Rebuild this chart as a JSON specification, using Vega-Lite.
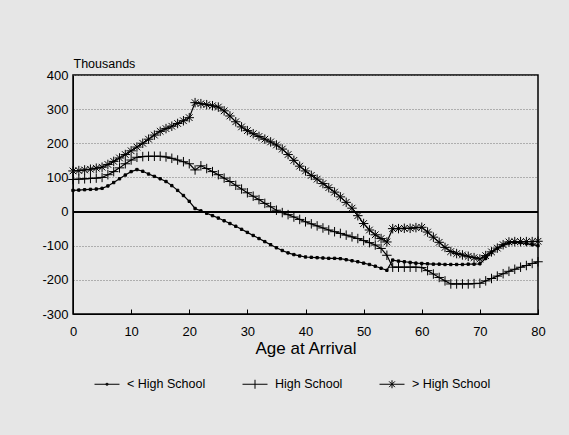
{
  "$schema": "https://vega.github.io/schema/vega-lite/v6.json",
  "autosize": {"type": "none"},
  "width": 465,
  "height": 239,
  "padding": {"left": 73, "top": 75, "right": 31, "bottom": 121},
  "background": "#e6e6e6",
  "config": {
    "font": "Liberation Sans",
    "view": {"stroke": "black", "strokeWidth": 1.5, "fill": "#e6e6e6"},
    "axis": {"labelColor": "black", "titleColor": "black", "domainColor": "black", "tickColor": "black", "labelFont": "Liberation Sans", "titleFont": "Liberation Sans", "labelFlush": false}
  },
  "data": {"values": [
    {"age":0,"lt":62,"hs":94,"gt":119},{"age":1,"lt":63,"hs":95,"gt":120},{"age":2,"lt":64,"hs":96,"gt":122},{"age":3,"lt":65,"hs":97,"gt":124},{"age":4,"lt":66,"hs":98,"gt":127},
    {"age":5,"lt":68,"hs":100,"gt":130},{"age":6,"lt":75,"hs":108,"gt":138},{"age":7,"lt":85,"hs":117,"gt":147},{"age":8,"lt":96,"hs":128,"gt":157},{"age":9,"lt":107,"hs":140,"gt":167},
    {"age":10,"lt":117,"hs":151,"gt":178},{"age":11,"lt":123,"hs":159,"gt":189},{"age":12,"lt":118,"hs":161,"gt":200},{"age":13,"lt":110,"hs":162,"gt":212},{"age":14,"lt":103,"hs":162,"gt":224},
    {"age":15,"lt":96,"hs":162,"gt":235},{"age":16,"lt":88,"hs":160,"gt":243},{"age":17,"lt":76,"hs":156,"gt":250},{"age":18,"lt":62,"hs":151,"gt":258},{"age":19,"lt":47,"hs":146,"gt":266},
    {"age":20,"lt":30,"hs":140,"gt":275},{"age":21,"lt":9,"hs":122,"gt":319},{"age":22,"lt":2,"hs":134,"gt":316},{"age":23,"lt":-5,"hs":126,"gt":313},{"age":24,"lt":-12,"hs":117,"gt":310},
    {"age":25,"lt":-19,"hs":108,"gt":306},{"age":26,"lt":-27,"hs":98,"gt":295},{"age":27,"lt":-35,"hs":88,"gt":280},{"age":28,"lt":-43,"hs":77,"gt":263},{"age":29,"lt":-52,"hs":66,"gt":248},
    {"age":30,"lt":-61,"hs":55,"gt":237},{"age":31,"lt":-70,"hs":45,"gt":228},{"age":32,"lt":-79,"hs":35,"gt":220},{"age":33,"lt":-88,"hs":24,"gt":212},{"age":34,"lt":-97,"hs":14,"gt":204},
    {"age":35,"lt":-106,"hs":4,"gt":195},{"age":36,"lt":-114,"hs":-3,"gt":183},{"age":37,"lt":-121,"hs":-9,"gt":167},{"age":38,"lt":-126,"hs":-16,"gt":150},{"age":39,"lt":-130,"hs":-23,"gt":133},
    {"age":40,"lt":-133,"hs":-30,"gt":119},{"age":41,"lt":-134,"hs":-36,"gt":106},{"age":42,"lt":-135,"hs":-42,"gt":95},{"age":43,"lt":-136,"hs":-48,"gt":82},{"age":44,"lt":-137,"hs":-54,"gt":70},
    {"age":45,"lt":-137,"hs":-59,"gt":57},{"age":46,"lt":-138,"hs":-64,"gt":43},{"age":47,"lt":-141,"hs":-69,"gt":27},{"age":48,"lt":-144,"hs":-74,"gt":10},{"age":49,"lt":-147,"hs":-79,"gt":-12},
    {"age":50,"lt":-151,"hs":-85,"gt":-35},{"age":51,"lt":-155,"hs":-91,"gt":-54},{"age":52,"lt":-160,"hs":-98,"gt":-68},{"age":53,"lt":-166,"hs":-108,"gt":-79},{"age":54,"lt":-172,"hs":-128,"gt":-89},
    {"age":55,"lt":-142,"hs":-163,"gt":-50},{"age":56,"lt":-145,"hs":-163,"gt":-50},{"age":57,"lt":-147,"hs":-163,"gt":-49},{"age":58,"lt":-149,"hs":-163,"gt":-49},{"age":59,"lt":-151,"hs":-163,"gt":-47},
    {"age":60,"lt":-152,"hs":-164,"gt":-46},{"age":61,"lt":-153,"hs":-173,"gt":-60},{"age":62,"lt":-154,"hs":-183,"gt":-75},{"age":63,"lt":-154,"hs":-193,"gt":-90},{"age":64,"lt":-155,"hs":-203,"gt":-105},
    {"age":65,"lt":-155,"hs":-212,"gt":-117},{"age":66,"lt":-155,"hs":-212,"gt":-123},{"age":67,"lt":-155,"hs":-212,"gt":-127},{"age":68,"lt":-154,"hs":-212,"gt":-131},{"age":69,"lt":-154,"hs":-211,"gt":-135},
    {"age":70,"lt":-153,"hs":-210,"gt":-139},{"age":71,"lt":-137,"hs":-203,"gt":-129},{"age":72,"lt":-120,"hs":-196,"gt":-118},{"age":73,"lt":-108,"hs":-189,"gt":-107},{"age":74,"lt":-98,"hs":-182,"gt":-97},
    {"age":75,"lt":-92,"hs":-175,"gt":-89},{"age":76,"lt":-90,"hs":-169,"gt":-88},{"age":77,"lt":-91,"hs":-163,"gt":-88},{"age":78,"lt":-94,"hs":-158,"gt":-88},{"age":79,"lt":-97,"hs":-152,"gt":-88},
    {"age":80,"lt":-100,"hs":-147,"gt":-87}
  ]},
  "transform": [{"fold": ["lt", "hs", "gt"], "as": ["g", "v"]}],
  "encoding": {
    "x": {"field": "age", "type": "quantitative", "scale": {"domain": [0, 80], "nice": false},
      "axis": {"values": [0,10,20,30,40,50,60,70,80], "tickSize": -5, "labelPadding": 16, "labelFontSize": 13, "grid": false,
        "title": "Age at Arrival", "titleFontSize": 17, "titleFontWeight": "normal", "titlePadding": 2}},
    "y": {"field": "v", "type": "quantitative", "scale": {"domain": [-300, 400], "nice": false},
      "axis": {"values": [-300,-200,-100,0,100,200,300,400], "labelExpr": "'' + datum.value", "ticks": false, "labelPadding": 5, "labelFontSize": 13,
        "grid": true, "gridColor": "#777777", "gridDash": [1, 2], "gridWidth": 1,
        "title": "Thousands", "titleAngle": 0, "titleAlign": "left", "titleBaseline": "alphabetic", "titleX": 0, "titleY": -8, "titleFontSize": 12.5, "titleFontWeight": "normal"}}
  },
  "resolve": {"scale": {"shape": "independent"}, "legend": {"shape": "independent"}},
  "layer": [
    {"mark": {"type": "rule", "color": "black", "strokeWidth": 1}, "encoding": {"y": {"datum": 0}, "x": {"datum": 0}, "x2": {"datum": 80}}},
    {"mark": {"type": "line", "color": "black", "strokeWidth": 1.2}, "encoding": {"detail": {"field": "g"}, "order": {"field": "age"}}},
    {"mark": {"type": "point", "filled": true, "fill": "black", "stroke": "black", "strokeWidth": 1, "opacity": 1},
      "encoding": {
        "shape": {"field": "g", "type": "nominal", "legend": null,
          "scale": {"domain": ["lt", "hs", "gt"], "range": ["M-0.25,-0.25L0.25,-0.25L0.25,0.25L-0.25,0.25Z", "M-1,0L1,0M0,-1L0,1", "M-1,0L1,0M0,-1L0,1M-0.7,-0.7L0.7,0.7M-0.7,0.7L0.7,-0.7"]}},
        "size": {"value": 90}
      }
    },
    {"transform": [{"filter": "datum.age < 0"}],
      "mark": {"type": "point", "filled": false, "color": "black", "strokeWidth": 1, "opacity": 1},
      "encoding": {
        "shape": {"field": "g", "type": "nominal",
          "scale": {"domain": ["lt", "hs", "gt"], "range": ["M-1,0L1,0M-0.07,-0.07L0.07,-0.07L0.07,0.07L-0.07,0.07Z", "M-1,0L1,0M0,-0.36L0,0.36", "M-1,0L1,0M0,-0.32L0,0.32M-0.23,-0.23L0.23,0.23M-0.23,0.23L0.23,-0.23"]},
          "legend": {"title": null, "orient": "none", "legendX": 21, "legendY": 296, "direction": "horizontal", "padding": 0,
            "columnPadding": 34, "labelOffset": 7, "labelFontSize": 12.5, "labelColor": "black", "labelFont": "Liberation Sans",
            "symbolSize": 625, "symbolStrokeWidth": 1, "symbolOpacity": 1,
            "labelExpr": "datum.value == 'lt' ? '< High School' : datum.value == 'hs' ? 'High School' : '> High School'"}},
        "size": {"value": 625}
      }
    }
  ]
}
